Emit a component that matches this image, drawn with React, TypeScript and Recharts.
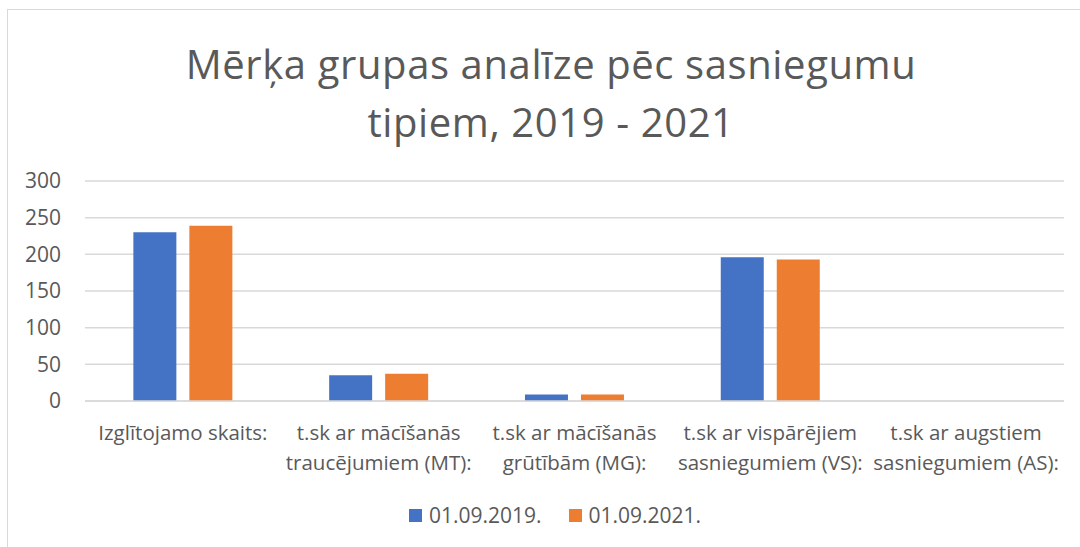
import React from 'react';
import { BarChart, Bar, XAxis, YAxis, CartesianGrid, Legend } from 'recharts';

const categories = [
  'Izglītojamo skaits:',
  't.sk ar mācīšanās traucējumiem (MT):',
  't.sk ar mācīšanās grūtībām (MG):',
  't.sk ar vispārējiem sasniegumiem (VS):',
  't.sk ar augstiem sasniegumiem (AS):',
];
const categoryLines: string[][] = [
  ['Izglītojamo skaits:'],
  ['t.sk ar mācīšanās', 'traucējumiem (MT):'],
  ['t.sk ar mācīšanās', 'grūtībām (MG):'],
  ['t.sk ar vispārējiem', 'sasniegumiem (VS):'],
  ['t.sk ar augstiem', 'sasniegumiem (AS):'],
];
const series2019 = [230, 35, 9, 196, 0];
const series2021 = [239, 37, 9, 193, 0];
const yTicks = [0, 50, 100, 150, 200, 250, 300];
const seriesNames = ['01.09.2019.', '01.09.2021.'];
const titleLines = ['Mērķa grupas analīze pēc sasniegumu', 'tipiem, 2019 - 2021'];

const data = categories.map((c, i) => ({
  name: c,
  idx: i,
  s2019: series2019[i],
  s2021: series2021[i],
}));

const FONT = '"Open Sans", Lato, sans-serif';
const TEXT = '#595959';

const XTick = (props: any) => {
  const { x, y, payload } = props;
  const lines = categoryLines[payload.index] || [String(payload.value)];
  return (
    <g>
      {lines.map((l, i) => (
        <text
          key={i}
          x={x}
          y={y + 31 + i * 30}
          textAnchor="middle"
          fill={TEXT}
          fontSize={20.5}
          fontFamily={FONT}
        >
          {l}
        </text>
      ))}
    </g>
  );
};

const LegendContent = () => (
  <div style={{ display: 'flex', justifyContent: 'center', fontFamily: FONT, fontSize: 21, color: TEXT, paddingLeft: 46 }}>
    {seriesNames.map((n, i) => (
      <div key={n} style={{ display: 'flex', alignItems: 'center', marginRight: i === 0 ? 27 : 0 }}>
        <span style={{ display: 'inline-block', width: 13, height: 13, background: i === 0 ? '#4472C4' : '#ED7D31', marginRight: 7 }} />
        <span>{n}</span>
      </div>
    ))}
  </div>
);

export default function App() {
  return (
    <div style={{ position: 'absolute', left: 0, top: 0, width: 1080, height: 547, background: '#fff', overflow: 'hidden' }}>
      <div style={{ position: 'absolute', left: 7, top: 9, width: 1200, height: 800, borderLeft: '1.5px solid #d9d9d9', borderTop: '1.5px solid #d9d9d9' }} />
      <div style={{ position: 'absolute', left: 0, top: 35, width: 1102, textAlign: 'center', fontFamily: FONT, fontSize: 40, letterSpacing: 0.6, fontWeight: 400, color: TEXT, lineHeight: '58px' }}>
        <div>{titleLines[0]}</div>
        <div>{titleLines[1]}</div>
      </div>
      <div style={{ position: 'absolute', left: 0, top: 0 }}>
        <BarChart
          width={1080}
          height={547}
          data={data}
          margin={{ top: 181, right: 16, left: 0, bottom: 0 }}
          barCategoryGap="24.7%"
          barGap={13}
        >
          <CartesianGrid vertical={false} stroke="#d9d9d9" strokeWidth={1.5} />
          <YAxis
            width={85}
            domain={[0, 300]}
            ticks={yTicks}
            axisLine={false}
            tickLine={false}
            tick={{ fill: TEXT, fontSize: 21, fontFamily: FONT }}
            tickMargin={18}
            interval={0}
          />
          <XAxis
            dataKey="name"
            height={69}
            axisLine={{ stroke: '#d9d9d9', strokeWidth: 1.5 }}
            tickLine={false}
            tick={<XTick />}
            interval={0}
          />
          <Legend
            verticalAlign="bottom"
            height={46}
            content={<LegendContent />}
            wrapperStyle={{ paddingTop: 31 }}
          />
          <Bar dataKey="s2019" name={seriesNames[0]} fill="#4472C4" isAnimationActive={false} />
          <Bar dataKey="s2021" name={seriesNames[1]} fill="#ED7D31" isAnimationActive={false} />
        </BarChart>
      </div>
    </div>
  );
}
